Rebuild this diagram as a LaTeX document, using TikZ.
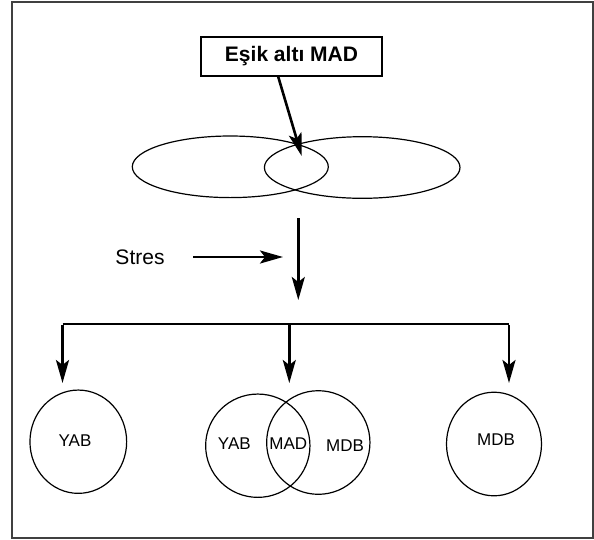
\documentclass[tikz,border=0pt]{standalone}
\usepackage{fontspec}
\setmainfont{Liberation Sans}
\usetikzlibrary{arrows.meta,shapes.geometric}
\begin{document}
\begin{tikzpicture}[x=1pt,y=-1pt,
  thinline/.style={line width=1.2pt},
  bigarrow/.style={line width=2.6pt,-{Stealth[length=23pt,width=13pt,inset=5pt]}},
  ring/.style={draw,thinline,ellipse,inner sep=0pt},
  lbl/.style={font=\fontsize{17}{19}\selectfont,inner sep=0pt},
  title/.style={draw,line width=1.6pt,minimum width=181pt,minimum height=39pt,inner sep=0pt,font=\fontsize{21}{24}\selectfont\bfseries}]
\useasboundingbox (0,0) rectangle (594,539);
\draw[line width=2pt,black!75] (12,2) rectangle (592.5,538);
% title box
\node[title] (box) at (291.5,56.5) {Eşik altı MAD};
% overlapping ellipses
\node[ring,minimum width=196pt,minimum height=61.6pt] (e1) at (230.3,166.8) {};
\node[ring,minimum width=195.6pt,minimum height=61.6pt] (e2) at (362.2,167.5) {};
\coordinate (tip1) at (301.7,156);
\draw[bigarrow] (278,76) -- (tip1);
% stress
\node[font=\fontsize{21}{24}\selectfont,inner sep=0pt] (stres) at (140,257) {Stres};
\coordinate (s1) at (193,257);
\coordinate (s2) at (283,257);
\draw[bigarrow] (s1) -- (s2);
\coordinate (v1) at (298.3,218);
\coordinate (v2) at (298.3,300);
\draw[bigarrow] (v1) -- (v2);
% branch
\coordinate (bl) at (62.5,324);
\coordinate (bm) at (289.3,324);
\coordinate (br) at (509,324);
\coordinate (tl) at (62.5,383);
\coordinate (tm) at (289.3,383);
\coordinate (tr) at (509,383);
\draw[line width=2.6pt] (bl) -- (br);
\draw[bigarrow] ([yshift=-1.3pt]bl) -- (tl);
\draw[bigarrow] (bm) -- (tm);
\draw[bigarrow] ([yshift=-1.3pt]br) -- (tr);
% circles
\node[ring,minimum width=96.7pt,minimum height=103.3pt] (c1) at (78.3,441.7) {};
\node[lbl] (t1) at (75,441) {YAB};
\node[ring,minimum width=104.3pt,minimum height=103.3pt] (c2) at (257.8,445.7) {};
\node[ring,minimum width=103.3pt,minimum height=103.6pt] (c3) at (318.3,442.5) {};
\node[lbl] (t2) at (234.3,444) {YAB};
\node[lbl] (t3) at (288.3,444) {MAD};
\node[lbl] (t4) at (345,445.7) {MDB};
\node[ring,minimum width=95pt,minimum height=103.6pt] (c4) at (494,444) {};
\node[lbl] (t5) at (496,440) {MDB};
\end{tikzpicture}
\end{document}
